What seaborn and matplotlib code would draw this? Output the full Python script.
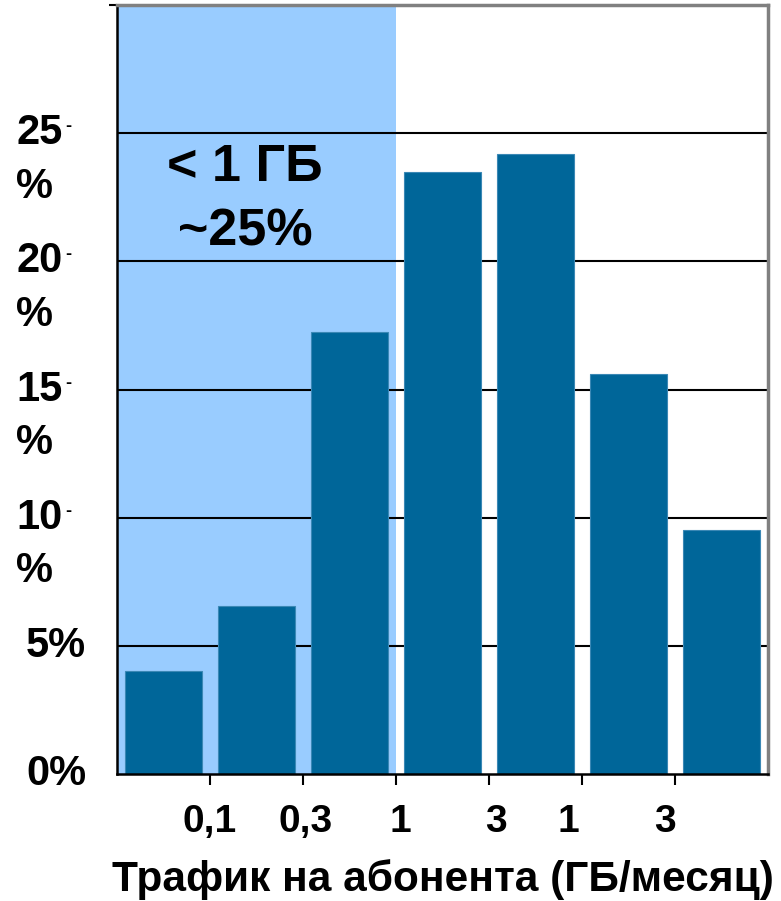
import matplotlib
matplotlib.use("Agg")
import matplotlib.pyplot as plt
import matplotlib.transforms as mtransforms
import seaborn as sns
import pandas as pd

# ---- data ----
categories = ["<0,1", "0,1-0,3", "0,3-1", "1-3", "3-10", "10-30", ">30"]
values = [4.0, 6.55, 17.25, 23.5, 24.2, 15.6, 9.5]
x_tick_labels = ["0,1", "0,3", "1", "3", "1", "3"]
y_ticks = [0, 5, 10, 15, 20, 25]
annotation_lines = ["< 1 ГБ", "~25%"]
xlabel = "Трафик на абонента (ГБ/месяц)"

sns.set_theme(style="white")
plt.rcParams["font.family"] = ["Liberation Sans", "DejaVu Sans"]
plt.rcParams["font.weight"] = "bold"

fig = plt.figure(figsize=(7.81, 9.01), dpi=100)
ax = fig.add_axes([117 / 781, 1 - 774 / 901, (768 - 117) / 781, (774 - 5) / 901])

df = pd.DataFrame({"cat": categories, "val": values})

# shaded region (< 1 GB)
ax.axvspan(-0.5, 2.5, color="#99CCFF", zorder=0, lw=0)

# grid lines
for t in y_ticks[1:]:
    ax.axhline(t, color="black", lw=1.5, zorder=1)

sns.barplot(data=df, x="cat", y="val", order=categories, color="#006699",
            saturation=1, width=0.82, edgecolor="#3b88b5", linewidth=0.8,
            ax=ax, zorder=2)

ax.set_xlim(-0.5, len(categories) - 0.5)
ax.set_ylim(0, 30)
ax.set_xlabel("")
ax.set_ylabel("")

# spines
for s in ["left", "bottom"]:
    ax.spines[s].set_color("black")
    ax.spines[s].set_linewidth(1.8)
for s in ["top", "right"]:
    ax.spines[s].set_color("#808080")
    ax.spines[s].set_linewidth(2.5)

# x ticks at category boundaries
bounds = [i + 0.5 for i in range(len(categories) - 1)]
ax.set_xticks(bounds)
ax.set_xticklabels([])
ax.tick_params(axis="x", direction="out", length=8, width=1.5, color="black", bottom=True)
ax.set_yticks([30])
ax.set_yticklabels([])
ax.tick_params(axis="y", direction="out", length=6, width=1.5, color="black", left=True)

# x tick labels (positions as in reference)
label_offsets = [0, 0.03, 0.05, 0.07, -0.15, -0.11]
trans_x = mtransforms.blended_transform_factory(ax.transData, ax.transAxes)
for b, off, lab in zip(bounds, label_offsets, x_tick_labels):
    ax.text(b + off, -0.062, lab, transform=trans_x, ha="center", va="center",
            fontsize=28, fontweight="bold", color="black")

# y tick labels
trans_y = mtransforms.blended_transform_factory(ax.transAxes, ax.transData)
for t in y_ticks:
    if t >= 10:
        ax.text(-101 / 651, t, str(t), transform=trans_y, ha="left", va="center",
                fontsize=30, fontweight="bold", color="black")
        ax.text(-101 / 651, t - 2.1, "%", transform=trans_y, ha="left", va="center",
                fontsize=30, fontweight="bold", color="black")
        ax.text(-52 / 651, t + 0.25, "-", transform=trans_y, ha="left", va="center",
                fontsize=13, fontweight="bold", color="black")
    else:
        ax.text(-91 / 651, t, f"{t}%", transform=trans_y, ha="left", va="center",
                fontsize=30, fontweight="bold", color="black")

# annotation
ax.text(0.876, 23.65, annotation_lines[0], ha="center", va="center",
        fontsize=37.5, fontweight="bold", color="black", zorder=3)
ax.text(0.876, 21.15, annotation_lines[1], ha="center", va="center",
        fontsize=37.5, fontweight="bold", color="black", zorder=3)

fig.text(443 / 781, 1 - 880 / 901, xlabel, ha="center", va="center",
         fontsize=30.5, fontweight="bold", color="black")

fig.savefig("out.png", dpi=100)
